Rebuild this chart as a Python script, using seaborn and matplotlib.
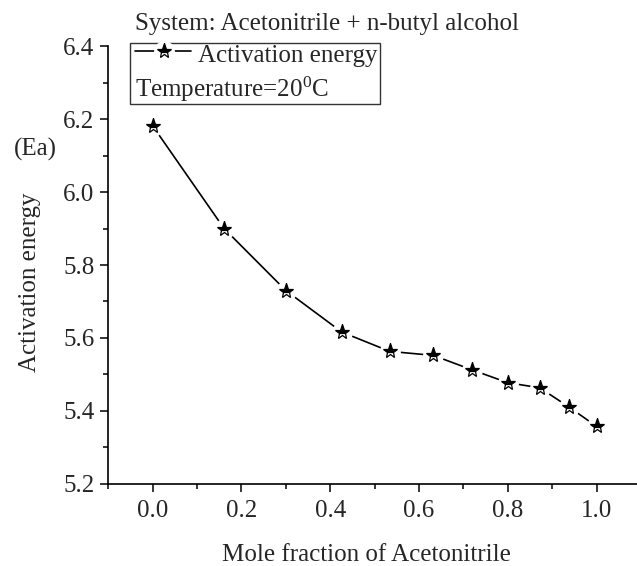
import numpy as np
import pandas as pd
import matplotlib
matplotlib.use("Agg")
import matplotlib.pyplot as plt
from matplotlib.lines import Line2D
from matplotlib.patches import Rectangle
from matplotlib.ticker import MultipleLocator
import seaborn as sns

# ---- data ----
mole_fraction = [0.0, 0.161, 0.300, 0.426, 0.534, 0.632, 0.720, 0.800, 0.872, 0.938, 1.0]
activation_energy = [6.182, 5.900, 5.730, 5.616, 5.563, 5.552, 5.512, 5.477, 5.463, 5.410, 5.357]
x_ticks = [0.0, 0.2, 0.4, 0.6, 0.8, 1.0]
y_ticks = [5.2, 5.4, 5.6, 5.8, 6.0, 6.2, 6.4]
series_label = "Activation energy"
title_text = "System: Acetonitrile + n-butyl alcohol"
temp_text = "Temperature=20$^0$C"
x_label = "Mole fraction of Acetonitrile"
y_label = "Activation energy"
y_unit = "(Ea)"

df = pd.DataFrame({"x": mole_fraction, "y": activation_energy})

sns.set_style("ticks")
plt.rcParams["font.family"] = ["Liberation Serif", "DejaVu Serif"]
plt.rcParams["mathtext.fontset"] = "custom"
plt.rcParams["mathtext.rm"] = "Liberation Serif"
plt.rcParams["mathtext.it"] = "Liberation Serif:italic"

FS = 18
W, H = 637, 566
fig = plt.figure(figsize=(W / 100, H / 100), dpi=100)

def fx(px):
    return px / W

def fy(py):
    return 1 - py / H

ax = fig.add_axes([fx(108.3), fy(483.6), fx(641) - fx(108.3), fy(46.5) - fy(483.6)])

sns.lineplot(data=df, x="x", y="y", ax=ax, color="black", linewidth=1.2, legend=False)
# white halo to create gaps around markers
ax.plot(df["x"], df["y"], ls="none", marker="o", ms=15, mfc="white", mec="none", zorder=3)
ax.plot(df["x"], df["y"], ls="none", marker="*", ms=11, fillstyle="top",
        mfc="black", markerfacecoloralt="white", mec="black", mew=0.9, zorder=4)

ax.set_xlim(-0.1, 1.1)
ax.set_ylim(5.2, 6.4)
ax.set_xticks(x_ticks)
ax.set_xticklabels([f"{v:.1f}" for v in x_ticks])
ax.set_yticks(y_ticks)
ax.set_yticklabels([f"{v:.1f}" for v in y_ticks])
ax.xaxis.set_minor_locator(MultipleLocator(0.1))
ax.yaxis.set_minor_locator(MultipleLocator(0.1))
ax.tick_params(axis="both", which="major", length=6, width=1.1, labelsize=FS, color="black")
ax.tick_params(axis="x", which="major", pad=5.5)
ax.tick_params(axis="y", which="major", pad=4)
ax.tick_params(axis="both", which="minor", length=3.5, width=1.1, color="black")
for s in ["top", "right"]:
    ax.spines[s].set_visible(False)
for s in ["left", "bottom"]:
    ax.spines[s].set_linewidth(1.2)
    ax.spines[s].set_color("black")
ax.set_xlabel("")
ax.set_ylabel("")
ax.set_facecolor("white")

# texts
fig.text(fx(135), fy(30), title_text, fontsize=FS, ha="left", va="baseline")
fig.text(fx(366), fy(561), x_label, fontsize=FS, ha="center", va="baseline")
fig.text(fx(30), fy(282), y_label, fontsize=FS, rotation=90, ha="center", va="center")
fig.text(fx(35), fy(149), y_unit, fontsize=FS, ha="center", va="center")

# legend box
fig.add_artist(Rectangle((fx(130), fy(104)), fx(380) - fx(130), fy(43) - fy(104),
                         transform=fig.transFigure, fill=False, edgecolor="#333333", linewidth=1.0))
hy = fy(51)
fig.add_artist(Line2D([fx(135), fx(191)], [hy, hy], transform=fig.transFigure, color="black", lw=1.2))
fig.add_artist(Line2D([fx(164)], [hy], transform=fig.transFigure, ls="none", marker="o", ms=15,
                      mfc="white", mec="none"))
fig.add_artist(Line2D([fx(164)], [hy], transform=fig.transFigure, ls="none", marker="*", ms=11,
                      fillstyle="top", mfc="black", markerfacecoloralt="white", mec="black", mew=0.9))
fig.text(fx(198), fy(62), series_label, fontsize=FS, ha="left", va="baseline")
fig.text(fx(135), fy(97), temp_text, fontsize=FS, ha="left", va="baseline")

fig.savefig("out.png", dpi=100, facecolor="white")
